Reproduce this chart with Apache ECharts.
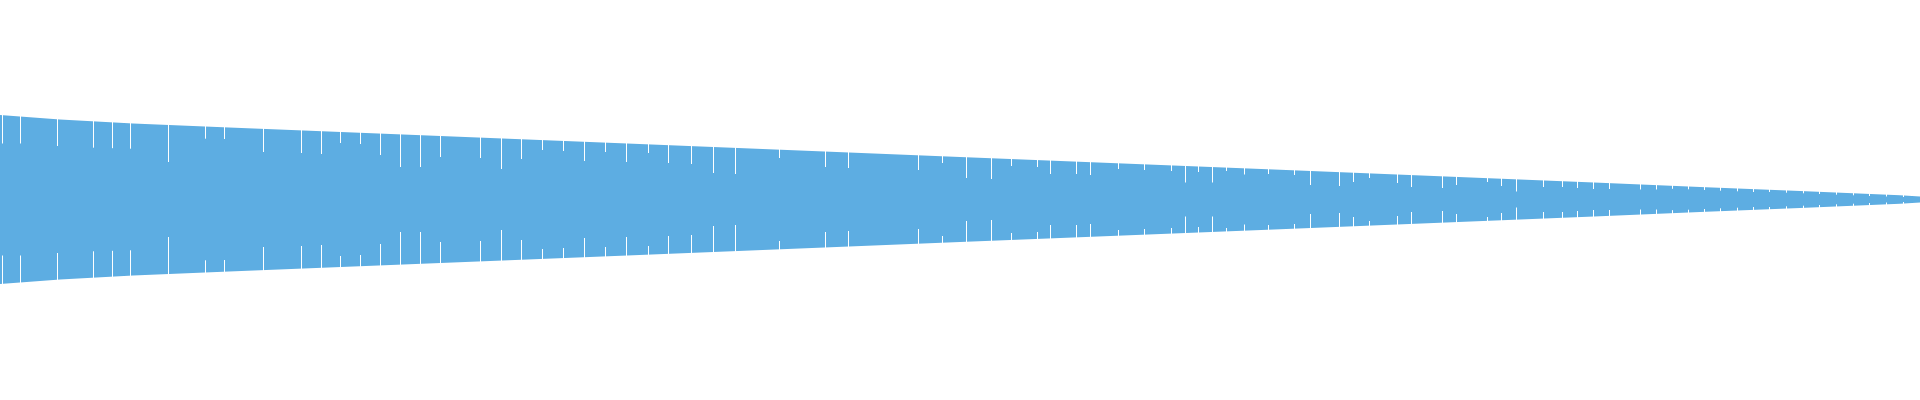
<!DOCTYPE html>
<html>
<head>
<meta charset="utf-8">
<script src="https://cdn.jsdelivr.net/npm/echarts@6/dist/echarts.min.js"></script>
<style>
html, body { margin: 0; padding: 0; background: #fff; }
#main { width: 1920px; height: 400px; }
</style>
</head>
<body>
<div id="main"></div>
<script>
// outline of the band: half of its height at each position
var envX = [0, 6, 13.3, 22.9, 62.7, 96, 128, 160, 170, 180, 190, 192];
var envHalf = [8.45, 8.0, 7.6, 7.2, 5.6, 4.26, 2.97, 1.68, 1.26, 0.84, 0.43, 0.30];

// white separators: position and the half-height where they stop
var sepX = [
    0.24, 2.04, 5.75, 9.33, 11.27, 13.05, 16.85, 20.53, 22.43, 26.35,
    30.16, 32.16, 34.04, 36.04, 38.04, 40.04, 42.04, 44.04, 48.04, 50.12,
    52.16, 54.24, 56.33, 58.45, 60.53, 62.65,
    64.82, 66.86, 69.1, 71.3, 73.5, 77.96, 82.53, 84.86, 91.88, 94.2,
    96.65, 99.1, 101.14, 103.76, 105.06, 107.67, 109.06, 111.84, 114.49, 117.14,
    118.53, 119.8, 121.22, 122.65, 124.4, 126.86,
    129.4, 131.0, 133.96, 135.35, 136.9, 139.76, 141.14, 144.2, 145.67, 148.7,
    150.1, 151.67, 154.33, 156.24, 157.76, 159.35, 160.9, 164.04, 165.6, 167.2,
    168.8, 170.4, 172.0, 173.7, 175.3, 176.9, 178.6, 180.3, 181.9, 183.6,
    185.3, 186.9, 188.6, 190.3
];
var sepDepth = [
    5.6, 5.6, 5.35, 5.18, 5.13, 5.08, 3.75, 6.08, 6.05, 4.75,
    4.65, 4.55, 5.65, 5.55, 4.45, 3.25, 3.25, 4.25, 4.15, 3.05,
    4.05, 4.95, 4.85, 3.85, 4.75, 3.75,
    4.65, 3.65, 3.55, 2.65, 2.55, 4.15, 3.25, 3.15, 2.95, 3.65,
    2.15, 2.05, 3.35, 3.25, 2.55, 2.55, 2.45, 3.05, 2.95, 2.85,
    1.7, 2.75, 1.7, 2.85, 2.5, 2.55,
    2.45, 1.45, 1.35, 1.75, 2.15, 1.65, 1.25, 1.15, 1.45, 1.75,
    1.35, 0.8, 1.25, 1.25, 1.15, 1.05, 1.05, 1.0, 1.0, 1.07,
    1.02, 0.95, 0.88, 0.82, 0.75, 0.75, 0.68, 0.62, 0.55, 0.48,
    0.42, 0.35, 0.3, 0.25
];

var BLUE = '#5DADE2';
var Y_MAX = 19.95;

var myChart = echarts.init(document.getElementById('main'));

// whole band as one polygon, upper edge forward then lower edge back
function renderBand(params, api) {
    var pts = [];
    for (var i = 0; i < envX.length; i++) {
        pts.push(api.coord([envX[i], envHalf[i]]));
    }
    for (var j = envX.length - 1; j >= 0; j--) {
        pts.push(api.coord([envX[j], -envHalf[j]]));
    }
    return {
        type: 'polygon',
        shape: { points: pts },
        style: { fill: BLUE }
    };
}

function renderSep(params, api) {
    var x = api.value(0);
    var d = api.value(1);
    var a = api.coord([x, d]);
    var b = api.coord([x, Y_MAX]);
    var c = api.coord([x, -d]);
    var e = api.coord([x, -Y_MAX]);
    var px = Math.floor(a[0]) + 0.5;
    var st = { stroke: '#fff', lineWidth: 1 };
    return {
        type: 'group',
        children: [
            { type: 'line', shape: { x1: px, y1: b[1], x2: px, y2: a[1] }, style: st },
            { type: 'line', shape: { x1: px, y1: c[1], x2: px, y2: e[1] }, style: st }
        ]
    };
}

var option = {
    backgroundColor: '#fff',
    animation: false,
    grid: { left: 0, right: 0, top: 0, bottom: 1 },
    xAxis: { type: 'value', min: 0, max: 192, show: false },
    yAxis: { type: 'value', min: -Y_MAX, max: Y_MAX, show: false },
    series: [{
        type: 'custom',
        silent: true,
        renderItem: renderBand,
        encode: { x: 0, y: 1 },
        data: [[envX[0], envHalf[0]]]
    }, {
        type: 'custom',
        silent: true,
        renderItem: renderSep,
        encode: { x: 0, y: 1 },
        data: sepX.map(function (x, i) { return [x, sepDepth[i]]; })
    }]
};
myChart.setOption(option);
</script>
</body>
</html>
